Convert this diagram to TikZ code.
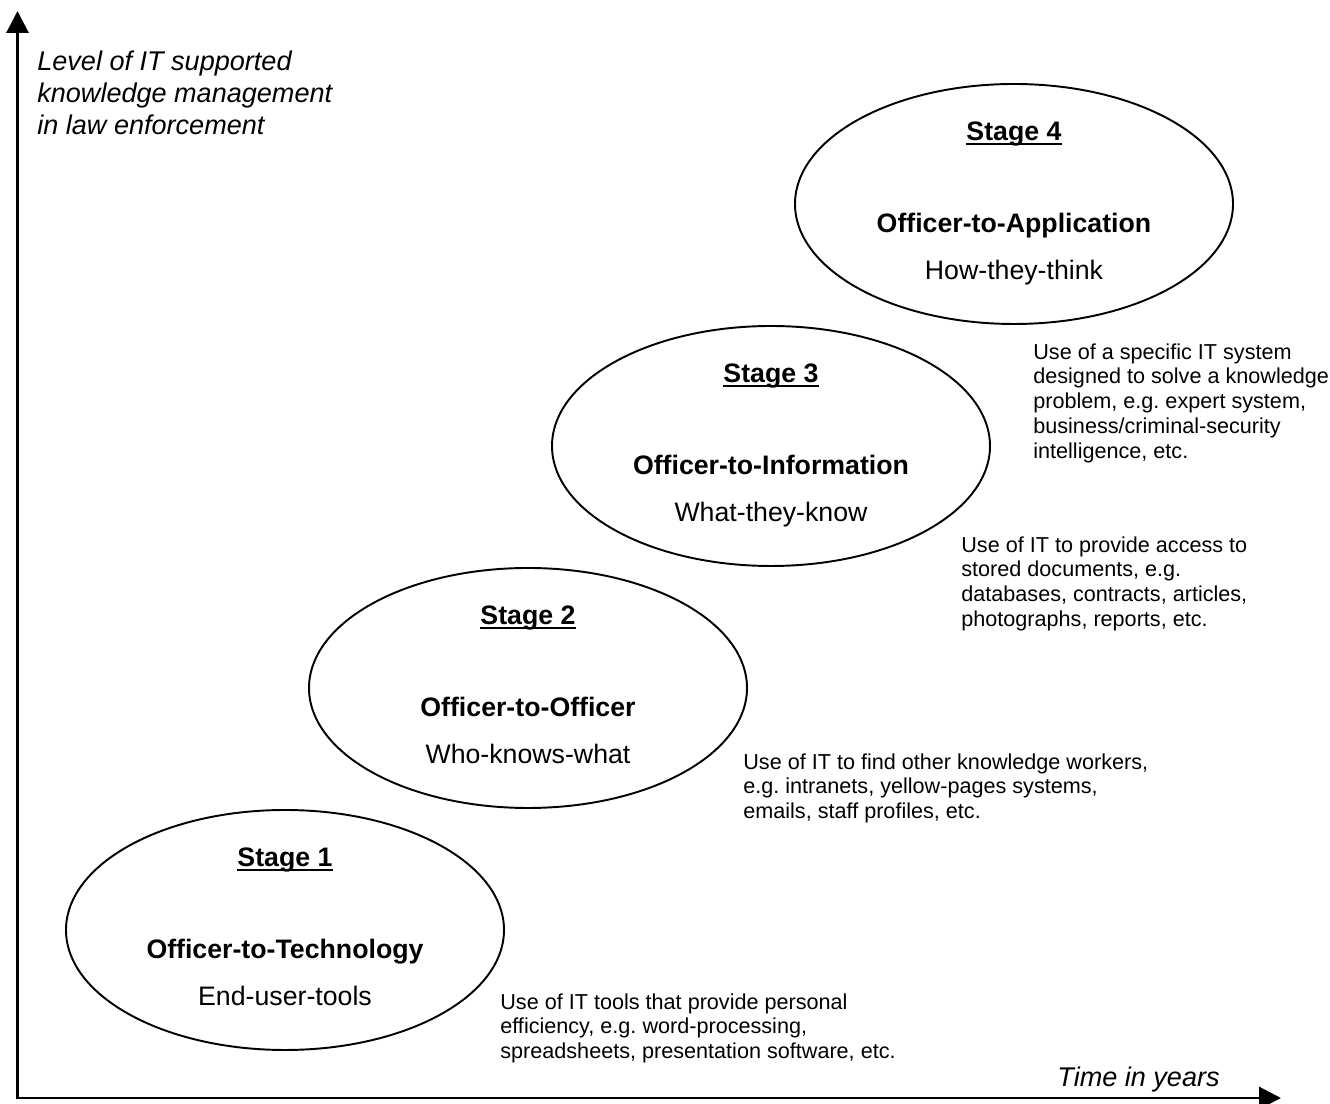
\documentclass[tikz,border=0pt]{standalone}
\usepackage{fontspec}
\setmainfont{Liberation Sans}
\usepackage{tikz}
\usetikzlibrary{shapes.geometric, arrows.meta, positioning}
\frenchspacing

\newsavebox{\stagebox}
\newcommand{\stagetitle}[1]{\sbox{\stagebox}{\textbf{#1}}\usebox{\stagebox}\llap{\rule[-3pt]{\wd\stagebox}{1.2pt}}}

\begin{document}
\begin{tikzpicture}[
    stage/.style={ellipse, draw, line width=1.1pt, minimum width=8.76cm, minimum height=4.8cm, inner sep=0pt, align=center, font=\fontsize{15.2}{26.6}\selectfont},
    desc/.style={anchor=north west, inner sep=0pt, align=left, font=\fontsize{12.3}{14.1}\selectfont},
    axislabel/.style={inner sep=0pt, align=left, font=\fontsize{15.4}{18.1}\selectfont\itshape},
    axis/.style={{Triangle[length=4.4mm, width=4.4mm]}-{Triangle[length=4.4mm, width=4.4mm]}, line width=1.7pt},
]
    \useasboundingbox (0,0) rectangle (26.6,22.08);

    % Axes
    \coordinate (ytip) at (0.35,21.86);
    \coordinate (xtip) at (25.62,0.12);
    \draw[axis] (ytip) |- (xtip);
    \node[axislabel, anchor=north west] (ylabel) at (0.74,21.06) {Level of IT supported\\knowledge management\\in law enforcement};
    \node[axislabel, anchor=base east] (xlabel) at (24.40,0.34) {Time in years};

    % Stages
    \node[stage] (stage1) at (5.70,3.48) {\stagetitle{Stage 1}\\[26.1pt]\textbf{Officer-to-Technology}\\End-user-tools\rule[-4pt]{0pt}{0pt}};
    \node[stage] (stage2) at (10.56,8.32) {\stagetitle{Stage 2}\\[26.1pt]\textbf{Officer-to-Officer}\\Who-knows-what\rule[-4pt]{0pt}{0pt}};
    \node[stage] (stage3) at (15.42,13.16) {\stagetitle{Stage 3}\\[26.1pt]\textbf{Officer-to-Information}\\What-they-know\rule[-4pt]{0pt}{0pt}};
    \node[stage] (stage4) at (20.28,18.00) {\stagetitle{Stage 4}\\[26.1pt]\textbf{Officer-to-Application}\\How-they-think\rule[-4pt]{0pt}{0pt}};

    % Descriptions
    \node[desc] (desc1) at (10.00,2.22) {Use of IT tools that provide personal\\efficiency, e.g. word-processing,\\spreadsheets, presentation software, etc.};
    \node[desc] (desc2) at (14.86,7.02) {Use of IT to find other knowledge workers,\\e.g. intranets, yellow-pages systems,\\emails, staff profiles, etc.};
    \node[desc] (desc3) at (19.22,11.36) {Use of IT to provide access to\\stored documents, e.g.\\databases, contracts, articles,\\photographs, reports, etc.};
    \node[desc] (desc4) at (20.66,15.22) {Use of a specific IT system\\designed to solve a knowledge\\problem, e.g. expert system,\\business/criminal-security\\intelligence, etc.};
\end{tikzpicture}
\end{document}
